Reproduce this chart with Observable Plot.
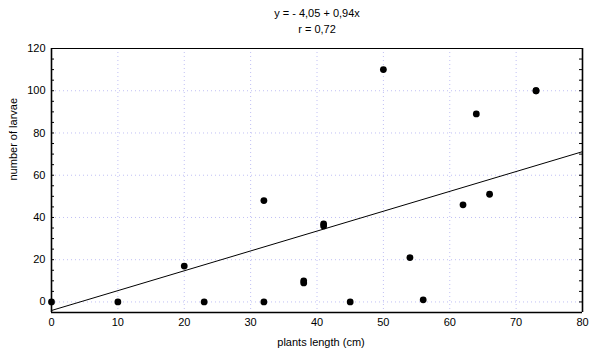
<!DOCTYPE html>
<html><head><meta charset="utf-8">
<script src="https://cdn.jsdelivr.net/npm/d3@7"></script>
<script src="https://cdn.jsdelivr.net/npm/@observablehq/plot@0.6"></script>
<style>body{margin:0;background:#fff}svg{display:block}</style>
</head><body><div id="chart"></div>
<script>
const plantLength = [0, 10, 20, 23, 32, 32, 38, 38, 41, 41, 45, 50, 54, 56, 62, 64, 66, 73, 73];
const larvae      = [0, 0, 17, 0, 48, 0, 9, 10, 36, 37, 0, 110, 21, 1, 46, 89, 51, 100, 100];
const fitX = [0, 80];
const fitY = [-4.05, 71.15];
const xTicks = [0, 10, 20, 30, 40, 50, 60, 70, 80];
const yTicks = [0, 20, 40, 60, 80, 100, 120];
const xGrid = [10, 20, 30, 40, 50, 60, 70];
const yGrid = [0, 20, 40, 60, 80, 100];
const yMinor = [0, 5, 10, 15, 20, 25, 30, 35, 40, 45, 50, 55, 60, 65, 70, 75, 80, 85, 90, 95, 100, 105, 110, 115];
const titleLines = ["y = - 4,05 + 0,94x", "r = 0,72"];
const xLabel = "plants length (cm)";
const yLabel = "number of larvae";

const points = plantLength.map((x, i) => ({x, y: larvae[i]}));
const fit = fitX.map((x, i) => ({x, y: fitY[i]}));
const font = "'Liberation Sans', Arial, sans-serif";
const grid = "#c0c0f4";

const chart = Plot.plot({
  width: 601, height: 358,
  marginLeft: 51, marginRight: 19, marginTop: 48, marginBottom: 46,
  style: {fontFamily: font, fontSize: "11px", color: "#000", background: "#fff"},
  x: {domain: [0, 80]},
  y: {domain: [-5, 120]},
  marks: [
    Plot.ruleX(xGrid, {stroke: grid, strokeDasharray: "1,3"}),
    Plot.ruleY(yGrid, {stroke: grid, strokeDasharray: "1,3"}),
    Plot.axisX(xTicks, {tickSize: 0, tickPadding: 6, label: null, fontSize: 11}),
    Plot.axisY(yTicks, {tickSize: 0, tickPadding: 6, label: null, fontSize: 11}),
    Plot.tickY(yMinor, {y: d => d, stroke: "#000", insetRight: 528}),
    Plot.tickY(yMinor, {y: d => d, stroke: "#000", insetLeft: 528}),
    Plot.line(fit, {x: "x", y: "y", stroke: "#000", strokeWidth: 1, clip: true}),
    Plot.dot(points, {x: "x", y: "y", r: 3.4, fill: "#000", stroke: "none"}),
    Plot.ruleX([0, 80], {stroke: "#000", strokeWidth: 1.6}),
    Plot.ruleY([-5], {stroke: "#000", strokeWidth: 1.6}),
    Plot.ruleY([120], {stroke: "#000", strokeWidth: 1.2}),
    Plot.text([titleLines[0]], {text: d => d, frameAnchor: "top", dy: -39, fontSize: 11}),
    Plot.text([titleLines[1]], {text: d => d, frameAnchor: "top", dy: -23, fontSize: 11}),
    Plot.text([xLabel], {text: d => d, frameAnchor: "bottom", dy: 33, dx: 4, fontSize: 11}),
    Plot.text([yLabel], {text: d => d, frameAnchor: "left", dx: -38, rotate: -90, fontSize: 11})
  ]
});
document.getElementById("chart").appendChild(chart);
</script>
</body></html>
